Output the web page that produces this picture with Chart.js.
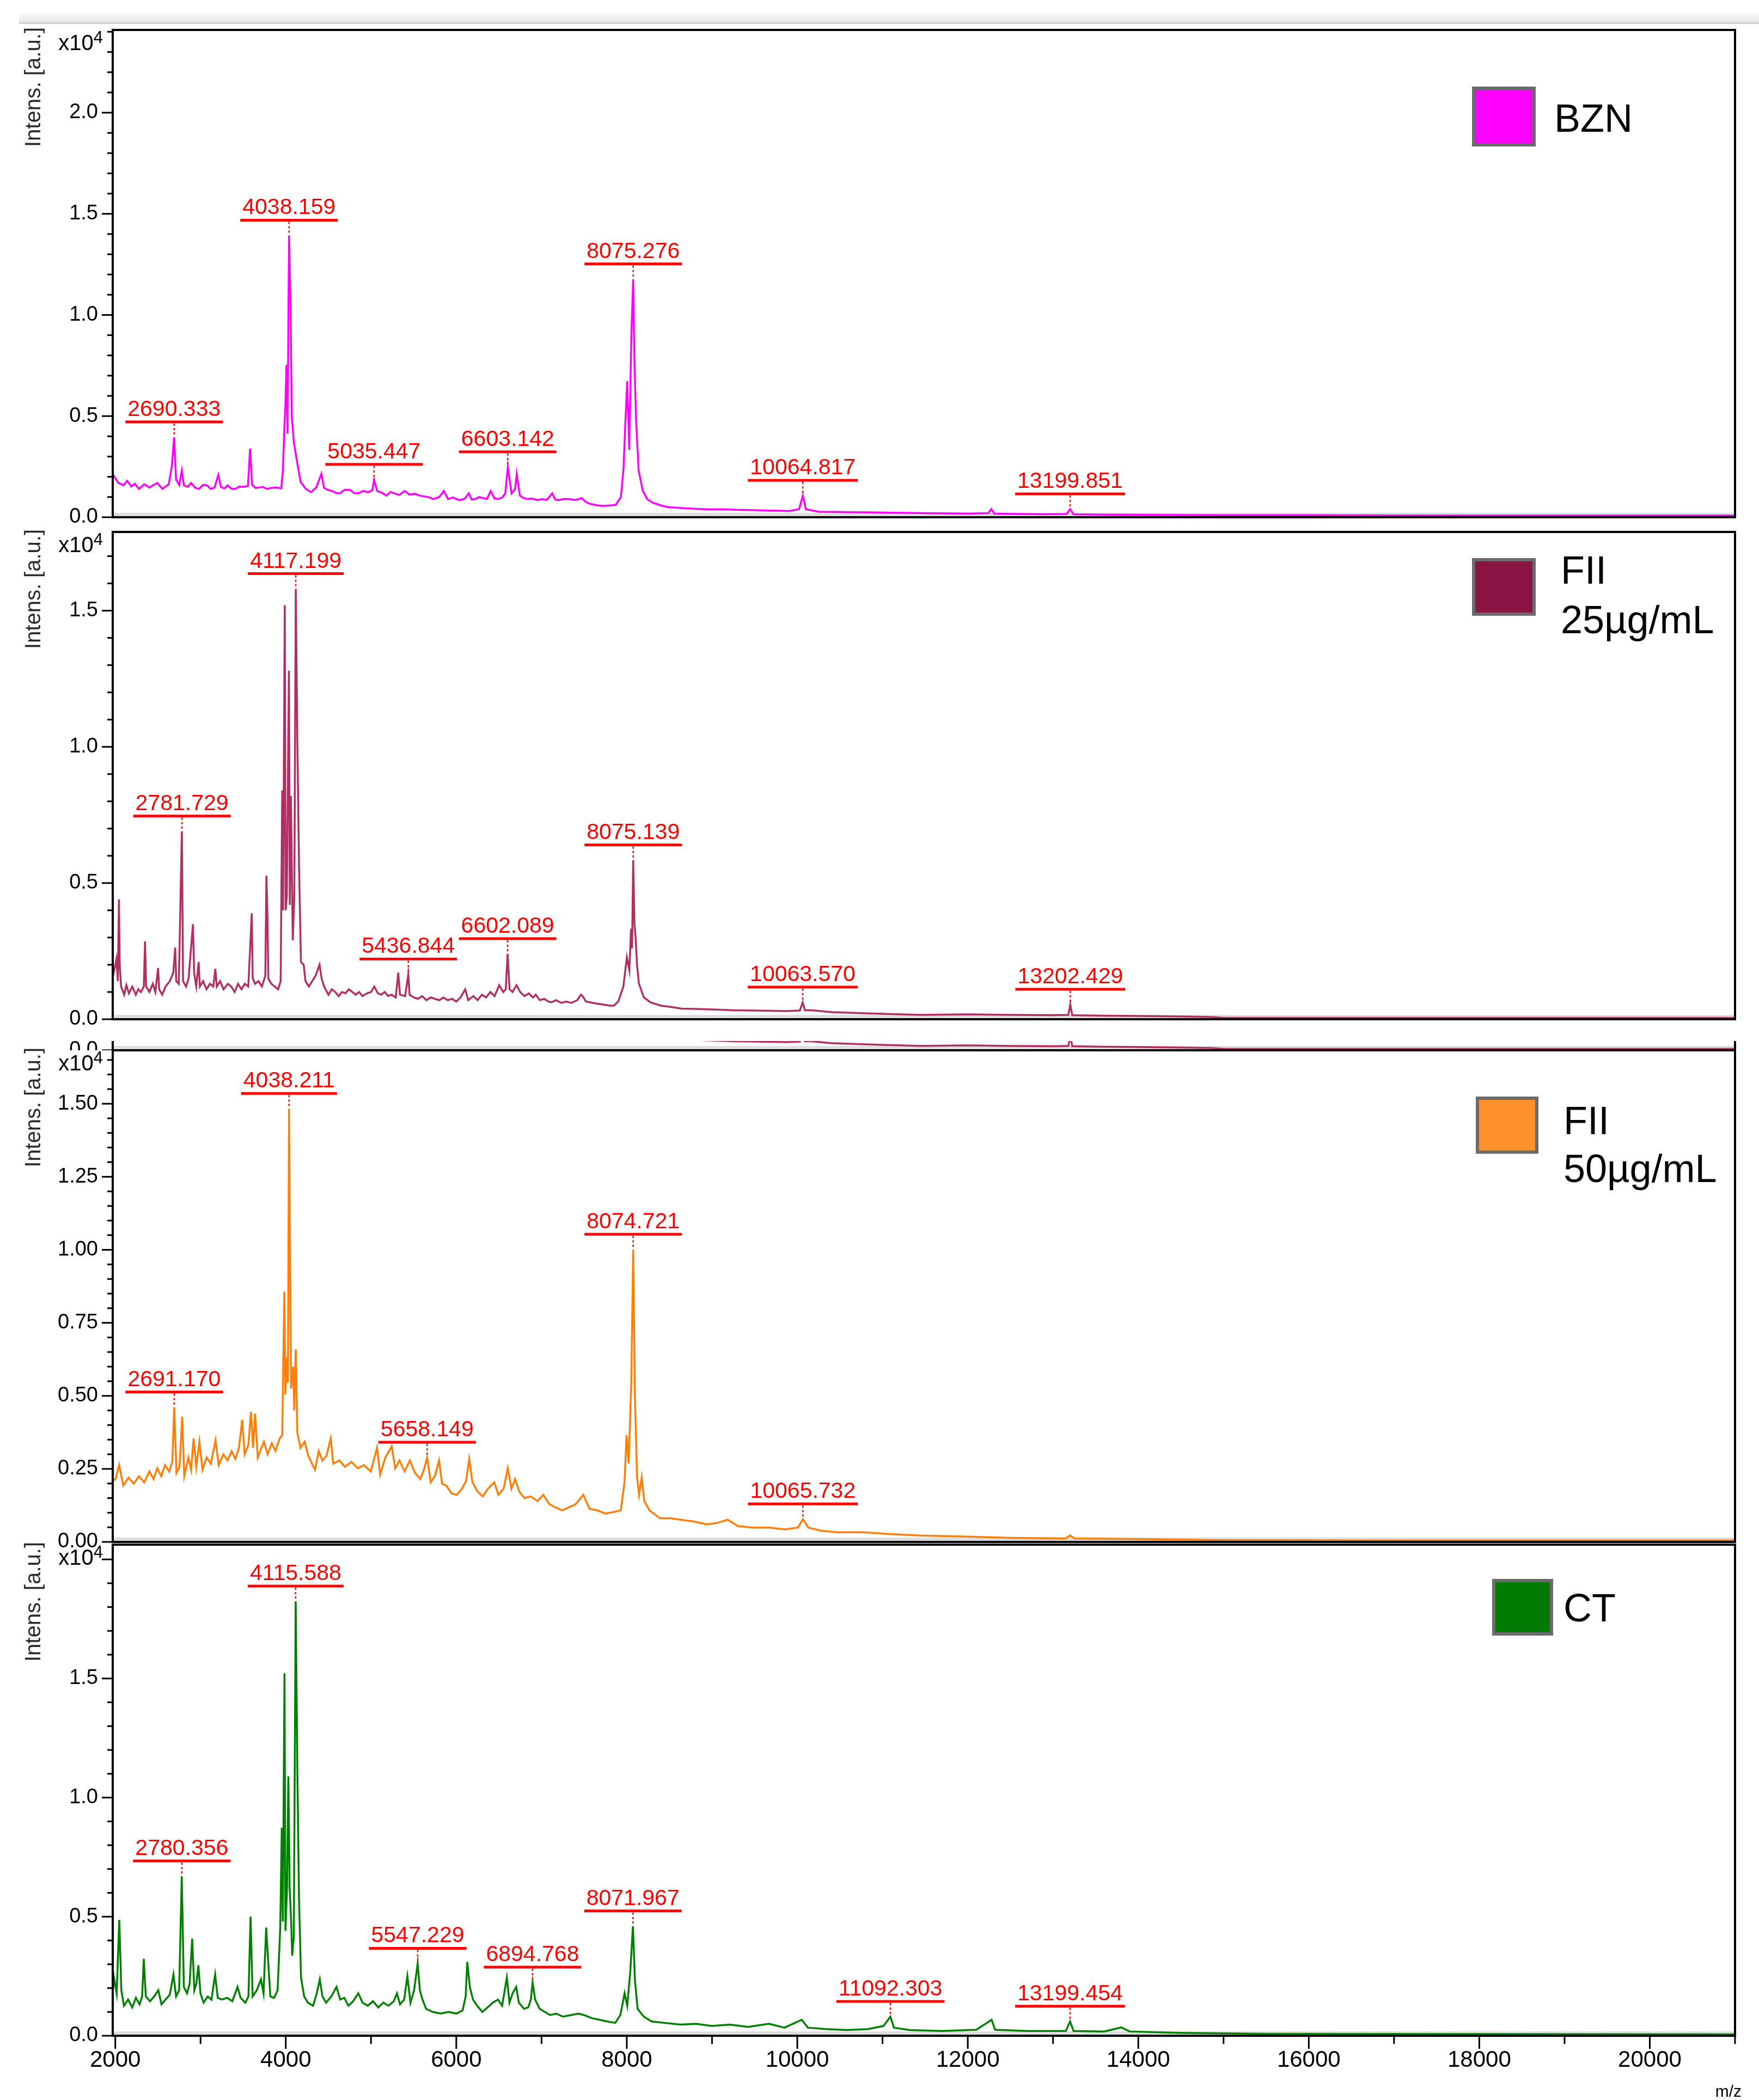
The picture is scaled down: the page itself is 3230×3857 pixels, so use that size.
<!DOCTYPE html>
<html>
<head>
<meta charset="utf-8">
<script src="https://cdn.jsdelivr.net/npm/chart.js@4.4.1/dist/chart.umd.min.js"></script>
<style>
  html, body { margin: 0; padding: 0; background: #fff; }
  body { width: 3230px; height: 3857px; position: relative; overflow: hidden; }
  .header { position: absolute; left: 35px; top: 24px; width: 3195px; height: 17px;
            background: linear-gradient(#f8f8f8, #e9e9e9); border-bottom: 3px solid #d2d2d2; }
  canvas { position: absolute; left: 0; }
  .strip { position: absolute; left: 0; top: 1912px; width: 3230px; height: 17px; overflow: hidden; }
</style>
</head>
<body>
<div class="header"></div>
<canvas id="p1"></canvas>
<canvas id="p2"></canvas>
<div class="strip"><canvas id="p2clone"></canvas></div>
<canvas id="p3"></canvas>
<canvas id="p4"></canvas>
<script>
// m/z axis range and ticks (labels on every second one)
const MZ_MIN = 1970;
const MZ_MAX = 21000;
const mzTicks = [2000, 3000, 4000, 5000, 6000, 7000, 8000, 9000, 10000, 11000, 12000,
  13000, 14000, 15000, 16000, 17000, 18000, 19000, 20000, 21000];

// BZN spectrum (intensity in x10^4 a.u.)
const bznMz = [1975, 2035, 2096, 2139, 2188, 2230, 2279, 2340, 2402, 2450, 2493, 2554, 2600, 2627, 2664, 2690, 2713, 2750, 2780, 2805,
  2850, 2890, 2940, 2982, 3030, 3074, 3120, 3165, 3208, 3239, 3280, 3318, 3365, 3410, 3455, 3501, 3556, 3581, 3605, 3645,
  3685, 3730, 3776, 3830, 3886, 3947, 3966, 3984, 3996, 4008, 4021, 4038, 4057, 4070, 4094, 4131, 4174, 4235, 4296, 4357,
  4418, 4449, 4495, 4540, 4590, 4632, 4690, 4754, 4800, 4846, 4910, 4968, 5017, 5035, 5072, 5130, 5182, 5230, 5273, 5330,
  5396, 5450, 5518, 5560, 5610, 5670, 5732, 5800, 5854, 5903, 5960, 6037, 6100, 6147, 6180, 6220, 6270, 6312, 6360, 6404,
  6450, 6495, 6540, 6575, 6605, 6648, 6690, 6709, 6746, 6790, 6831, 6890, 6954, 7010, 7060, 7125, 7160, 7198, 7260, 7320,
  7390, 7440, 7473, 7520, 7565, 7640, 7717, 7790, 7870, 7931, 7962, 7980, 8005, 8029, 8053, 8075, 8090, 8109, 8139, 8188,
  8240, 8298, 8390, 8481, 8570, 8665, 8800, 8970, 9120, 9276, 9450, 9642, 9800, 9887, 10021, 10065, 10100, 10253, 10450, 10620,
  10850, 11110, 11500, 12000, 12240, 12275, 12310, 12600, 12900, 13160, 13200, 13240, 13600, 14000, 14500, 15000, 16000, 17000, 18000, 19000,
  20000, 21000];
const bznInt = [0.21, 0.17, 0.158, 0.18, 0.152, 0.165, 0.14, 0.163, 0.147, 0.16, 0.169, 0.14, 0.155, 0.163, 0.254, 0.396, 0.186, 0.16, 0.23, 0.158,
  0.15, 0.169, 0.145, 0.14, 0.16, 0.158, 0.14, 0.147, 0.209, 0.15, 0.142, 0.158, 0.14, 0.14, 0.152, 0.15, 0.155, 0.339, 0.16, 0.145,
  0.147, 0.15, 0.14, 0.145, 0.147, 0.143, 0.23, 0.447, 0.56, 0.753, 0.413, 1.393, 1.025, 0.503, 0.373, 0.277, 0.175, 0.14, 0.124, 0.147,
  0.214, 0.145, 0.135, 0.13, 0.12, 0.118, 0.135, 0.135, 0.12, 0.118, 0.13, 0.123, 0.135, 0.186, 0.13, 0.12, 0.107, 0.125, 0.118, 0.11,
  0.13, 0.112, 0.116, 0.108, 0.104, 0.1, 0.09, 0.1, 0.13, 0.09, 0.098, 0.084, 0.092, 0.118, 0.088, 0.09, 0.1, 0.095, 0.09, 0.13,
  0.092, 0.09, 0.098, 0.118, 0.248, 0.118, 0.14, 0.214, 0.107, 0.095, 0.09, 0.092, 0.084, 0.09, 0.085, 0.118, 0.088, 0.084, 0.09, 0.09,
  0.085, 0.09, 0.095, 0.075, 0.067, 0.06, 0.056, 0.058, 0.061, 0.1, 0.243, 0.435, 0.673, 0.333, 0.889, 1.177, 0.764, 0.481, 0.231, 0.13,
  0.09, 0.073, 0.06, 0.05, 0.048, 0.045, 0.042, 0.039, 0.04, 0.037, 0.036, 0.033, 0.032, 0.03, 0.04, 0.107, 0.04, 0.027, 0.026, 0.025,
  0.024, 0.022, 0.02, 0.018, 0.02, 0.04, 0.018, 0.016, 0.015, 0.016, 0.04, 0.015, 0.013, 0.012, 0.011, 0.01, 0.01, 0.009, 0.008, 0.008,
  0.008, 0.008];
const bznPeaks = ['2690.333', '4038.159', '5035.447', '6603.142', '8075.276', '10064.817', '13199.851'];

// FII 25 µg/mL spectrum
const fii25Mz = [1975, 2013, 2030, 2043, 2052, 2068, 2104, 2130, 2160, 2200, 2240, 2270, 2300, 2335, 2349, 2362, 2400, 2440, 2470, 2502,
  2515, 2550, 2590, 2640, 2680, 2703, 2715, 2745, 2781, 2795, 2830, 2860, 2911, 2925, 2950, 2978, 2992, 3030, 3070, 3110,
  3150, 3174, 3190, 3230, 3270, 3320, 3360, 3400, 3440, 3480, 3520, 3560, 3601, 3612, 3640, 3680, 3720, 3760, 3773, 3785,
  3795, 3830, 3870, 3910, 3940, 3958, 3968, 3988, 3998, 4012, 4037, 4047, 4060, 4082, 4100, 4117, 4135, 4155, 4178, 4210,
  4231, 4270, 4310, 4350, 4396, 4420, 4450, 4500, 4540, 4580, 4620, 4660, 4700, 4740, 4780, 4820, 4860, 4900, 4950, 5000,
  5038, 5080, 5120, 5160, 5200, 5240, 5290, 5319, 5340, 5400, 5437, 5452, 5500, 5550, 5600, 5650, 5700, 5750, 5800, 5850,
  5900, 5950, 6000, 6050, 6105, 6140, 6200, 6250, 6300, 6350, 6400, 6450, 6504, 6550, 6580, 6602, 6625, 6660, 6706, 6750,
  6800, 6850, 6900, 6932, 6980, 7030, 7080, 7115, 7170, 7230, 7290, 7350, 7420, 7460, 7482, 7520, 7600, 7700, 7800, 7849,
  7900, 7960, 8001, 8030, 8050, 8062, 8075, 8090, 8105, 8120, 8142, 8200, 8277, 8400, 8520, 8643, 8800, 9000, 9254, 9500,
  9700, 9865, 10030, 10063, 10090, 10171, 10400, 10600, 10782, 11100, 11454, 12000, 12500, 13000, 13180, 13202, 13225, 13600, 14000, 14500,
  14870, 15000, 16000, 18000, 21000];
const fii25Int = [0.16, 0.22, 0.14, 0.44, 0.2, 0.12, 0.09, 0.125, 0.095, 0.12, 0.09, 0.11, 0.1, 0.12, 0.286, 0.12, 0.1, 0.13, 0.1, 0.188,
  0.11, 0.09, 0.12, 0.14, 0.17, 0.263, 0.14, 0.13, 0.69, 0.14, 0.12, 0.15, 0.349, 0.17, 0.12, 0.21, 0.12, 0.14, 0.11, 0.13,
  0.12, 0.185, 0.12, 0.14, 0.11, 0.13, 0.12, 0.1, 0.13, 0.11, 0.13, 0.12, 0.389, 0.15, 0.13, 0.14, 0.12, 0.16, 0.527, 0.38,
  0.15, 0.13, 0.12, 0.11, 0.14, 0.84, 0.4, 1.52, 0.4, 0.45, 1.28, 0.42, 0.82, 0.29, 0.45, 1.58, 1.04, 0.57, 0.21, 0.2,
  0.14, 0.12, 0.14, 0.16, 0.2, 0.15, 0.12, 0.09, 0.11, 0.1, 0.085, 0.1, 0.095, 0.11, 0.1, 0.09, 0.1, 0.085, 0.095, 0.1,
  0.12, 0.095, 0.09, 0.1, 0.085, 0.09, 0.08, 0.171, 0.09, 0.085, 0.165, 0.09, 0.08, 0.075, 0.085, 0.07, 0.08, 0.075, 0.07, 0.08,
  0.07, 0.075, 0.065, 0.08, 0.11, 0.07, 0.085, 0.07, 0.09, 0.08, 0.1, 0.085, 0.125, 0.1, 0.11, 0.24, 0.11, 0.1, 0.125, 0.1,
  0.085, 0.095, 0.08, 0.09, 0.07, 0.075, 0.065, 0.062, 0.07, 0.06, 0.065, 0.06, 0.07, 0.09, 0.085, 0.065, 0.06, 0.055, 0.05, 0.05,
  0.065, 0.12, 0.228, 0.18, 0.332, 0.26, 0.584, 0.35, 0.292, 0.2, 0.131, 0.08, 0.062, 0.05, 0.045, 0.039, 0.038, 0.036, 0.033, 0.032,
  0.031, 0.03, 0.032, 0.062, 0.033, 0.033, 0.026, 0.024, 0.022, 0.019, 0.016, 0.018, 0.016, 0.015, 0.016, 0.054, 0.015, 0.013, 0.012, 0.01,
  0.008, 0.005, 0.005, 0.005, 0.005];
const fii25Peaks = ['2781.729', '4117.199', '5436.844', '6602.089', '8075.139', '10063.570', '13202.429'];

// FII 50 µg/mL spectrum
const fii50Mz = [1975, 2003, 2045, 2094, 2155, 2217, 2278, 2339, 2400, 2449, 2492, 2540, 2583, 2632, 2669, 2691, 2718, 2754, 2785, 2809,
  2858, 2889, 2919, 2950, 2987, 3023, 3072, 3121, 3176, 3213, 3268, 3317, 3365, 3408, 3451, 3488, 3518, 3561, 3592, 3616,
  3640, 3671, 3714, 3744, 3787, 3836, 3879, 3928, 3958, 3983, 3995, 4013, 4025, 4038, 4050, 4062, 4087, 4099, 4117, 4135,
  4172, 4221, 4264, 4307, 4343, 4386, 4429, 4478, 4527, 4557, 4630, 4692, 4771, 4844, 4918, 4997, 5070, 5107, 5168, 5242,
  5284, 5333, 5394, 5455, 5517, 5578, 5620, 5658, 5700, 5749, 5798, 5834, 5883, 5944, 6005, 6066, 6115, 6152, 6189, 6250,
  6311, 6372, 6445, 6494, 6555, 6604, 6647, 6690, 6739, 6800, 6873, 6953, 7020, 7093, 7166, 7240, 7319, 7399, 7490, 7564,
  7655, 7747, 7839, 7930, 7973, 7998, 8022, 8053, 8075, 8095, 8120, 8144, 8175, 8205, 8267, 8389, 8511, 8633, 8786, 8939,
  9061, 9183, 9305, 9489, 9672, 9855, 10008, 10066, 10130, 10283, 10466, 10772, 11078, 11444, 12000, 12500, 13150, 13200, 13250, 14000,
  15000, 17000, 21000];
const fii50Int = [0.21, 0.215, 0.263, 0.193, 0.22, 0.199, 0.225, 0.204, 0.241, 0.215, 0.252, 0.225, 0.263, 0.241, 0.274, 0.461, 0.236, 0.257, 0.429, 0.225,
  0.289, 0.247, 0.354, 0.257, 0.343, 0.247, 0.289, 0.268, 0.348, 0.263, 0.3, 0.279, 0.311, 0.284, 0.322, 0.418, 0.3, 0.332, 0.445, 0.322,
  0.439, 0.289, 0.322, 0.343, 0.3, 0.338, 0.311, 0.354, 0.365, 0.857, 0.504, 0.632, 0.546, 1.483, 0.996, 0.525, 0.6, 0.45, 0.659, 0.375,
  0.322, 0.343, 0.295, 0.268, 0.247, 0.311, 0.279, 0.295, 0.354, 0.268, 0.279, 0.257, 0.274, 0.252, 0.263, 0.241, 0.322, 0.231, 0.289, 0.327,
  0.252, 0.279, 0.241, 0.279, 0.236, 0.215, 0.247, 0.289, 0.204, 0.225, 0.279, 0.199, 0.193, 0.166, 0.161, 0.182, 0.209, 0.284, 0.204, 0.172,
  0.156, 0.182, 0.204, 0.161, 0.182, 0.252, 0.182, 0.215, 0.172, 0.15, 0.156, 0.14, 0.161, 0.129, 0.118, 0.108, 0.118, 0.129, 0.161, 0.113,
  0.108, 0.097, 0.102, 0.108, 0.204, 0.365, 0.268, 0.546, 1.001, 0.504, 0.225, 0.161, 0.22, 0.14, 0.108, 0.081, 0.081, 0.076, 0.07, 0.06,
  0.065, 0.076, 0.054, 0.049, 0.049, 0.043, 0.049, 0.078, 0.049, 0.038, 0.033, 0.033, 0.027, 0.022, 0.018, 0.014, 0.012, 0.022, 0.012, 0.01,
  0.006, 0.005, 0.005];
const fii50Peaks = ['2691.170', '4038.211', '5658.149', '8074.721', '10065.732'];

// CT spectrum
const ctMz = [1975, 1985, 2016, 2047, 2071, 2102, 2150, 2199, 2242, 2285, 2315, 2334, 2358, 2407, 2456, 2505, 2542, 2590, 2639, 2682,
  2713, 2749, 2780, 2804, 2841, 2872, 2902, 2927, 2951, 2975, 2999, 3036, 3085, 3128, 3171, 3202, 3250, 3312, 3373, 3434,
  3470, 3525, 3562, 3587, 3611, 3660, 3709, 3739, 3770, 3794, 3819, 3862, 3904, 3935, 3953, 3965, 3985, 3996, 4014, 4030,
  4045, 4063, 4075, 4094, 4116, 4136, 4155, 4179, 4216, 4259, 4320, 4363, 4399, 4430, 4473, 4534, 4595, 4638, 4686, 4735,
  4790, 4851, 4900, 4962, 5023, 5084, 5145, 5206, 5267, 5304, 5340, 5389, 5426, 5463, 5505, 5547, 5573, 5603, 5646, 5725,
  5817, 5909, 6000, 6074, 6110, 6129, 6159, 6196, 6245, 6306, 6367, 6428, 6489, 6538, 6593, 6624, 6660, 6703, 6734, 6795,
  6844, 6875, 6895, 6925, 6978, 7039, 7100, 7174, 7253, 7345, 7436, 7497, 7589, 7681, 7773, 7864, 7925, 7974, 8005, 8041,
  8072, 8096, 8127, 8200, 8292, 8445, 8628, 8811, 8995, 9209, 9423, 9667, 9850, 10052, 10125, 10339, 10584, 10828, 11011, 11092,
  11134, 11317, 11700, 12100, 12280, 12320, 12700, 13150, 13200, 13240, 13600, 13800, 13900, 14500, 15500, 21000];
const ctInt = [0.2, 0.244, 0.178, 0.486, 0.191, 0.126, 0.152, 0.119, 0.159, 0.132, 0.165, 0.323, 0.165, 0.145, 0.165, 0.191, 0.132, 0.152, 0.172, 0.257,
  0.165, 0.191, 0.67, 0.205, 0.178, 0.218, 0.408, 0.191, 0.218, 0.296, 0.178, 0.139, 0.165, 0.152, 0.257, 0.159, 0.152, 0.159, 0.145, 0.205,
  0.159, 0.139, 0.165, 0.5, 0.165, 0.191, 0.237, 0.178, 0.454, 0.31, 0.165, 0.159, 0.191, 0.454, 0.873, 0.48, 1.522, 0.44, 0.611, 1.089,
  0.624, 0.48, 0.336, 0.414, 1.824, 1.109, 0.578, 0.244, 0.165, 0.139, 0.126, 0.178, 0.237, 0.165, 0.139, 0.165, 0.205, 0.152, 0.159, 0.126,
  0.145, 0.178, 0.139, 0.126, 0.145, 0.119, 0.139, 0.126, 0.145, 0.178, 0.132, 0.152, 0.25, 0.139, 0.191, 0.303, 0.191, 0.152, 0.113, 0.1,
  0.093, 0.1, 0.093, 0.106, 0.165, 0.31, 0.205, 0.152, 0.126, 0.1, 0.119, 0.139, 0.152, 0.126, 0.244, 0.139, 0.178, 0.205, 0.139, 0.113,
  0.119, 0.152, 0.224, 0.152, 0.113, 0.1, 0.087, 0.093, 0.08, 0.087, 0.093, 0.087, 0.074, 0.067, 0.06, 0.054, 0.087, 0.178, 0.126, 0.27,
  0.46, 0.231, 0.113, 0.08, 0.06, 0.054, 0.047, 0.05, 0.041, 0.047, 0.037, 0.05, 0.034, 0.067, 0.034, 0.028, 0.024, 0.028, 0.041, 0.08,
  0.034, 0.024, 0.02, 0.025, 0.067, 0.025, 0.02, 0.02, 0.06, 0.02, 0.018, 0.035, 0.018, 0.012, 0.008, 0.006];
const ctPeaks = ['2780.356', '4115.588', '5547.229', '6894.768', '8071.967', '11092.303', '13199.454'];

const FONT = '"Liberation Sans", Arial, sans-serif';
const PAD_TOP = 60;
const PAD_BOTTOM = 60;

const panels = {
  p1: { mz: bznMz, intensity: bznInt, peaks: bznPeaks, legend: ['BZN'], color: '#ff00ff', fill: '#ff00ff',
        top: 55, bottom: 950, yMax: 2.409, major: 0.5, minor: 0.1, digits: 1, labelMax: 2.0,
        box: [2706, 162, 111, 104], textX: 2854, textY: [216] },
  p2: { mz: fii25Mz, intensity: fii25Int, peaks: fii25Peaks, legend: ['FII', '25µg/mL'], color: '#b03063', fill: '#8a1444',
        top: 977, bottom: 1872, yMax: 1.789, major: 0.5, minor: 0.1, digits: 1, labelMax: 1.5,
        box: [2706, 1028, 111, 100], textX: 2866, textY: [1046, 1137] },
  p3: { mz: fii50Mz, intensity: fii50Int, peaks: fii50Peaks, legend: ['FII', '50µg/mL'], color: '#ff7f0a', fill: '#ff922e',
        top: 1929, bottom: 2832, yMax: 1.683, major: 0.25, minor: 0.05, digits: 2, labelMax: 1.5,
        box: [2713, 2017, 109, 99], textX: 2871, textY: [2057, 2145] },
  p4: { mz: ctMz, intensity: ctInt, peaks: ctPeaks, legend: ['CT'], color: '#008000', fill: '#007a00',
        top: 2837, bottom: 3739, yMax: 2.062, major: 0.5, minor: 0.1, digits: 1, labelMax: 1.5,
        box: [2743, 2903, 106, 98], textX: 2871, textY: [2952], xAxis: true }
};

function isMultiple(v, step) {
  const r = v / step;
  return Math.abs(r - Math.round(r)) < 1e-6;
}

const spectrumPlugin = {
  id: 'spectrum',
  beforeDatasetsDraw(chart, args, opts) {
    const { ctx, chartArea: a } = chart;
    ctx.save();
    ctx.fillStyle = '#dedede';
    ctx.fillRect(a.left, a.bottom - 8, a.right - a.left, 6);
    ctx.restore();
  },
  afterDatasetsDraw(chart, args, opts) {
    const p = opts.panel;
    const { ctx, chartArea: a, scales: { x, y } } = chart;
    ctx.save();
    ctx.strokeStyle = '#000';
    ctx.lineWidth = 4;
    ctx.strokeRect(a.left, a.top, a.right - a.left, a.bottom - a.top);

    // y ticks, long for the major ones
    ctx.lineWidth = 3;
    y.ticks.forEach(t => {
      const py = y.getPixelForValue(t.value);
      const len = isMultiple(t.value, p.major) ? 20 : 10;
      ctx.beginPath();
      ctx.moveTo(a.left - len, py);
      ctx.lineTo(a.left, py);
      ctx.stroke();
    });

    // bottom m/z axis: ticks every 1000, labels every 2000
    if (p.xAxis) {
      ctx.fillStyle = '#000';
      ctx.font = '42px ' + FONT;
      ctx.textAlign = 'center';
      ctx.textBaseline = 'middle';
      x.ticks.forEach(t => {
        const px = x.getPixelForValue(t.value);
        const major = isMultiple(t.value, 2000);
        ctx.beginPath();
        ctx.moveTo(px, a.bottom);
        ctx.lineTo(px, a.bottom + (major ? 24 : 15));
        ctx.stroke();
        if (major) ctx.fillText(String(t.value), px, a.bottom + 45);
      });
    }

    if (!opts.clone) {
      // peak labels: text, red bar and dotted stem above the peak top
      ctx.font = '41px ' + FONT;
      ctx.textAlign = 'center';
      ctx.textBaseline = 'alphabetic';
      p.peaks.forEach(txt => {
        const m = parseFloat(txt);
        let top = 0;
        p.mz.forEach((v, i) => {
          if (Math.abs(v - m) <= 60 && p.intensity[i] > top) top = p.intensity[i];
        });
        const px = x.getPixelForValue(m);
        const py = y.getPixelForValue(top);
        const barY = py - 28;
        const w = ctx.measureText(txt).width;
        ctx.fillStyle = '#ff0000';
        ctx.fillRect(px - w / 2 - 4, barY - 2.5, w + 8, 5);
        ctx.fillText(txt, px, barY - 11);
        ctx.strokeStyle = '#ff0000';
        ctx.lineWidth = 2.5;
        ctx.setLineDash([4, 4]);
        ctx.beginPath();
        ctx.moveTo(px, barY + 3);
        ctx.lineTo(px, py - 3);
        ctx.stroke();
        ctx.setLineDash([]);
      });
    }
    ctx.restore();
  },
  afterDraw(chart, args, opts) {
    if (opts.clone) return;
    const p = opts.panel;
    const { ctx, chartArea: a } = chart;
    const off = p.top - PAD_TOP;
    ctx.save();
    ctx.fillStyle = '#000';

    // x10^4 multiplier
    ctx.textAlign = 'left';
    ctx.textBaseline = 'alphabetic';
    ctx.font = '31px ' + FONT;
    const w4 = ctx.measureText('4').width;
    ctx.font = '40px ' + FONT;
    const w10 = ctx.measureText('x10').width;
    const right = a.left - 18;
    ctx.fillText('x10', right - w4 - w10, a.top + 37);
    ctx.font = '31px ' + FONT;
    ctx.fillText('4', right - w4, a.top + 24);

    // axis title
    ctx.save();
    ctx.translate(63, a.top + 105);
    ctx.rotate(-Math.PI / 2);
    ctx.textAlign = 'center';
    ctx.textBaseline = 'middle';
    ctx.font = '40px ' + FONT;
    ctx.fillStyle = '#2a2a2a';
    ctx.fillText('Intens. [a.u.]', 0, 0);
    ctx.restore();

    // legend swatch and text
    const [bx, by, bw, bh] = p.box;
    ctx.fillStyle = p.fill;
    ctx.fillRect(bx, by - off, bw, bh);
    ctx.strokeStyle = '#6b6b6b';
    ctx.lineWidth = 6;
    ctx.strokeRect(bx, by - off, bw, bh);
    ctx.fillStyle = '#000';
    ctx.font = '72px ' + FONT;
    p.legend.forEach((line, i) => {
      ctx.fillText(line, p.textX, p.textY[i] - off + 26);
    });

    if (p.xAxis) {
      ctx.font = '30px ' + FONT;
      ctx.textAlign = 'right';
      ctx.fillText('m/z', 3198, chart.height - 6);
    }
    ctx.restore();
  }
};

function makeChart(id, p, clone) {
  const canvas = document.getElementById(id);
  const plotH = p.bottom - p.top;
  const padBottom = p.xAxis ? 0 : PAD_BOTTOM;
  const xAxisH = p.xAxis ? 3857 - p.bottom : 0;
  canvas.width = 3230;
  canvas.height = PAD_TOP + plotH + padBottom + xAxisH;
  canvas.style.width = '3230px';
  canvas.style.height = canvas.height + 'px';
  // the clone only shows the bottom sliver of panel 2, its axis on panel 3's top edge
  canvas.style.top = clone ? (1929 - plotH - PAD_TOP - 1912) + 'px' : (p.top - PAD_TOP) + 'px';

  const points = p.mz.map((m, i) => ({ x: m, y: p.intensity[i] }));

  return new Chart(canvas, {
    type: 'line',
    data: {
      datasets: [{
        data: points,
        borderColor: p.color,
        borderWidth: 3.5,
        pointRadius: 0,
        tension: 0,
        fill: false
      }]
    },
    options: {
      responsive: false,
      animation: false,
      devicePixelRatio: 1,
      events: [],
      layout: { padding: { top: PAD_TOP, right: 44, bottom: padBottom, left: 0 } },
      plugins: {
        legend: { display: false },
        tooltip: { enabled: false },
        spectrum: { panel: p, clone: clone }
      },
      scales: {
        x: {
          type: 'linear',
          min: MZ_MIN,
          max: MZ_MAX,
          display: !!p.xAxis,
          afterFit: s => { s.height = xAxisH; },
          afterBuildTicks: s => { s.ticks = mzTicks.map(v => ({ value: v })); },
          grid: { display: false, drawTicks: false },
          border: { display: false },
          ticks: { display: false }
        },
        y: {
          min: 0,
          max: p.yMax,
          afterFit: s => { s.width = 207; },
          grid: { display: false, drawTicks: false },
          border: { display: false },
          ticks: {
            stepSize: p.minor,
            autoSkip: false,
            includeBounds: false,
            maxTicksLimit: 1000,
            padding: 27,
            color: '#000',
            font: { family: FONT, size: 38 },
            callback: v => (isMultiple(v, p.major) && v <= p.labelMax + 1e-9 ? v.toFixed(p.digits) : '')
          }
        }
      }
    },
    plugins: [spectrumPlugin]
  });
}

makeChart('p1', panels.p1, false);
makeChart('p2', panels.p2, false);
makeChart('p2clone', panels.p2, true);
makeChart('p3', panels.p3, false);
makeChart('p4', panels.p4, false);
</script>
</body>
</html>
